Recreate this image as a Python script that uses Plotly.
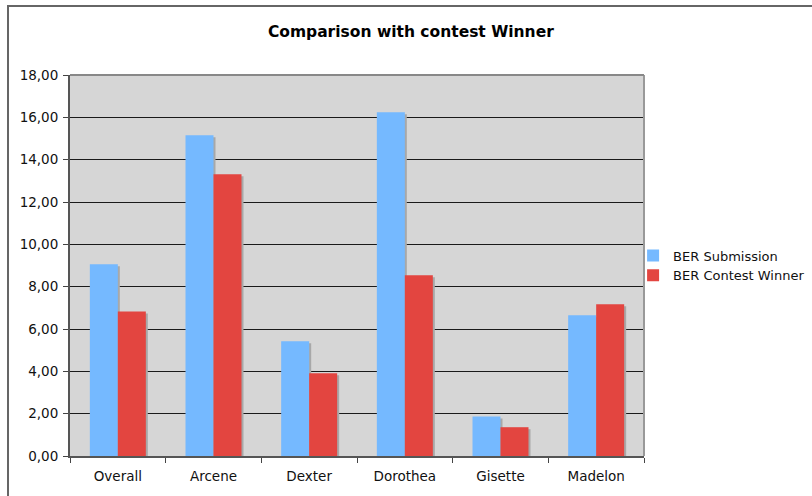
import plotly.graph_objects as go

categories = ["Overall", "Arcene", "Dexter", "Dorothea", "Gisette", "Madelon"]
ber_submission = [9.06, 15.15, 5.42, 16.24, 1.87, 6.65]
ber_winner = [6.83, 13.31, 3.91, 8.54, 1.36, 7.17]
series_names = ["BER Submission", "BER Contest Winner"]
y_ticks = [0, 2, 4, 6, 8, 10, 12, 14, 16, 18]

BLUE = "#75b9ff"
RED = "#e34540"
SHADOW = "#a8a8a8"
W = 0.2926
SH_X = 0.021
SH_Y = 0.094

fig = go.Figure()
# shadows
for vals, off in [(ber_submission, -W), (ber_winner, 0.0)]:
    fig.add_trace(go.Bar(
        x=categories, y=[v - SH_Y for v in vals], width=W, offset=off + SH_X,
        marker=dict(color=SHADOW, line=dict(width=0)), showlegend=False,
        hoverinfo="skip"))
fig.add_trace(go.Bar(x=categories, y=ber_submission, name=series_names[0], width=W, offset=-W,
                     marker=dict(color=BLUE, line=dict(width=0))))
fig.add_trace(go.Bar(x=categories, y=ber_winner, name=series_names[1], width=W, offset=0.0,
                     marker=dict(color=RED, line=dict(width=0))))

fig.update_layout(
    width=812, height=496,
    barmode="overlay",
    separators=",.",
    paper_bgcolor="white",
    plot_bgcolor="#d6d6d6",
    margin=dict(l=70, r=168, t=75, b=40, autoexpand=False),
    font=dict(family="DejaVu Sans, Verdana, sans-serif", size=13, color="#111"),
    title=dict(text="<b>Comparison with contest Winner</b>", x=0.506, xref="container",
               y=0.937, yref="container", xanchor="center", yanchor="middle",
               font=dict(size=15.5, color="#000")),
    legend=dict(x=0.981, y=0.5, xanchor="left", yanchor="middle",
                font=dict(size=13, color="#111"), bgcolor="rgba(0,0,0,0)",
                itemwidth=30, tracegroupgap=2),
    xaxis=dict(type="category", tickson="boundaries", ticks="outside", ticklen=5,
               tickcolor="#444", showline=True, linecolor="#555", linewidth=2,
               showgrid=False, mirror=False, range=[-0.5, 5.5], fixedrange=True,
               ticklabelstandoff=7, tickfont=dict(size=13.5)),
    yaxis=dict(range=[0, 18], tickvals=y_ticks, tickformat=".2f", ticks="outside",
               ticklen=5, tickcolor="#444", showline=True, linecolor="#555", linewidth=2,
               gridcolor="#1a1a1a", gridwidth=1.2, zeroline=False,
               tickfont=dict(size=13.5), ticklabelstandoff=2),
    shapes=[
        dict(type="line", xref="paper", yref="paper", x0=1, x1=1, y0=0, y1=1,
             line=dict(color="#999", width=2)),
        dict(type="line", xref="paper", yref="paper", x0=0, x1=1, y0=1, y1=1,
             line=dict(color="#888", width=2)),
        dict(type="rect", xref="paper", yref="paper", x0=-0.108, x1=1.5, y0=-0.3, y1=1.181,
             line=dict(color="#666", width=2), layer="below"),
    ],
)

fig.write_html("out.html")
